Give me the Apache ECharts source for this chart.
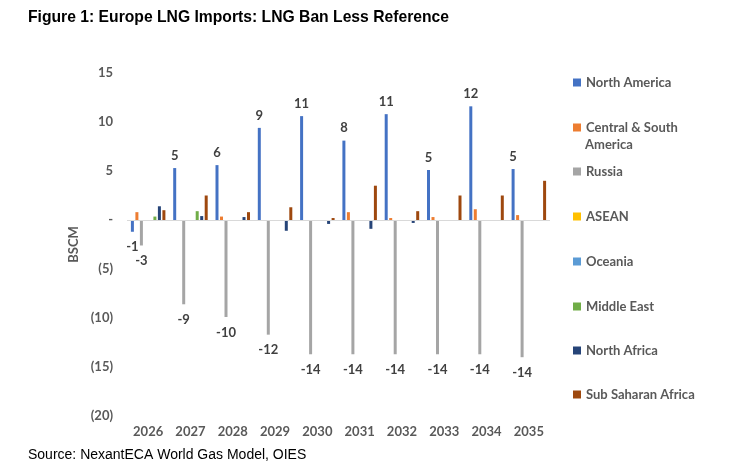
<!DOCTYPE html>
<html>
<head>
<meta charset="utf-8">
<script src="https://cdn.jsdelivr.net/npm/echarts@6/dist/echarts.min.js"></script>
<style>
html,body{margin:0;padding:0;background:#fff;}
#chart{width:750px;height:466px;}
</style>
</head>
<body>
<div id="chart"></div>
<script>
const categories = ['2026','2027','2028','2029','2030','2031','2032','2033','2034','2035'];
const seriesNames = ['North America','Central & South America','Russia','ASEAN','Oceania','Middle East','North Africa','Sub Saharan Africa'];
const northAmerica = [-1.2, 5.3, 5.6, 9.4, 10.6, 8.1, 10.8, 5.1, 11.6, 5.2];
const centralSouthAmerica = [0.8, -0.1, 0.35, -0.1, 0, 0.8, 0.2, 0.3, 1.1, 0.5];
const russia = [-2.6, -8.6, -9.9, -11.7, -13.7, -13.7, -13.7, -13.7, -13.7, -14.0];
const asean = [0, 0, 0, 0, 0, 0, 0, 0, 0, 0];
const oceania = [0, 0, 0, 0, 0, 0, 0, 0, 0, 0];
const middleEast = [0.35, 0.9, 0, 0, 0, 0, 0, 0, 0, 0];
const northAfrica = [1.4, 0.4, 0.3, -1.1, -0.4, -0.9, -0.3, 0, 0, 0];
const subSaharanAfrica = [1.0, 2.5, 0.8, 1.3, 0.2, 3.5, 0.9, 2.5, 2.5, 4.0];
const yTicks = { min: -20, max: 15, interval: 5 };

const colors = ['#4472C4','#ED7D31','#A5A5A5','#FFC000','#5B9BD5','#70AD47','#264478','#9E480E'];
const allData = [northAmerica, centralSouthAmerica, russia, asean, oceania, middleEast, northAfrica, subSaharanAfrica];
const labelled = [true, false, true, false, false, false, false, false];

const txt = '#595959';
const font = 'Lato';

const series = allData.map((arr, i) => {
  const s = {
    name: seriesNames[i],
    type: 'bar',
    barWidth: 3,
    barGap: '50%',
    itemStyle: { color: colors[i] },
    data: arr.map(v => {
      if (!labelled[i]) return v;
      return {
        value: v,
        label: {
          show: true,
          position: v < 0 ? 'bottom' : 'top',
          distance: v < 0 ? 9 : 6,
          formatter: p => String(Math.round(p.value)),
          color: '#404040',
          fontFamily: font,
          fontWeight: 'bold',
          fontSize: 13
        }
      };
    })
  };
  if (i === 0) {
    s.markLine = {
      silent: true,
      symbol: ['none','none'],
      label: { show: false },
      lineStyle: { color: '#D9D9D9', type: 'solid', width: 1 },
      data: [{ yAxis: 0 }]
    };
  }
  return s;
});

const legendCenters = [83, 128, 172, 217, 262, 307, 351, 395];
const legends = seriesNames.map((n, i) => {
  const lg = {
    data: [n],
    orient: 'vertical',
    left: 573,
    top: legendCenters[i] - 7,
    padding: 0,
    itemWidth: 8,
    itemHeight: 8,
    itemGap: 5,
    icon: 'rect',
    selectedMode: false,
    textStyle: { color: txt, fontFamily: font, fontWeight: 'bold', fontSize: 13 }
  };
  if (i === 1) {
    lg.formatter = () => 'Central & South';
  }
  return lg;
});

const chart = echarts.init(document.getElementById('chart'), null, { renderer: 'canvas' });
chart.setOption({
  animation: false,
  backgroundColor: '#ffffff',
  title: [
    { text: 'Figure 1: Europe LNG Imports: LNG Ban Less Reference', left: 23, top: 5,
      textStyle: { fontFamily: 'Liberation Sans', fontWeight: 'bold', fontSize: 15.7, color: '#000' } },
    { text: 'Source: NexantECA World Gas Model, OIES', left: 23, top: 443,
      textStyle: { fontFamily: 'Liberation Sans', fontWeight: 'normal', fontSize: 14, color: '#000' } }
  ],
  graphic: [
    { type: 'text', left: 585, top: 138,
      style: { text: 'America', fill: txt, font: 'bold 13px Lato' } }
  ],
  legend: legends,
  grid: { left: 127, right: 200, top: 73, bottom: 50 },
  xAxis: {
    type: 'category',
    data: categories,
    axisLine: { show: false, onZero: false },
    axisTick: { show: false },
    axisLabel: { margin: 9, color: txt, fontFamily: font, fontWeight: 'bold', fontSize: 13 }
  },
  yAxis: {
    type: 'value',
    min: yTicks.min, max: yTicks.max, interval: yTicks.interval,
    name: 'BSCM',
    nameLocation: 'middle',
    nameGap: 43,
    nameTextStyle: { color: txt, fontFamily: font, fontWeight: 'bold', fontSize: 13 },
    axisLine: { show: false },
    axisTick: { show: false },
    splitLine: { show: false },
    axisLabel: {
      margin: 14, color: txt, fontFamily: font, fontWeight: 'bold', fontSize: 13,
      formatter: v => v === 0 ? '-' : (v < 0 ? '(' + Math.abs(v) + ')' : String(v))
    }
  },
  series: series
});
</script>
</body>
</html>
